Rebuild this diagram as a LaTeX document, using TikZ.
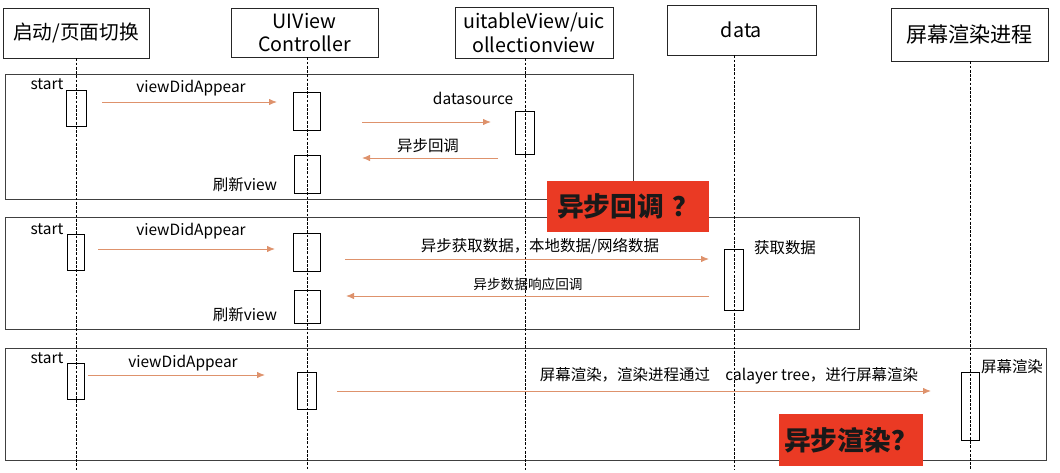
\documentclass[tikz,border=0pt]{standalone}
\usepackage{fontspec}
\setmainfont{Noto Sans CJK SC}
\usetikzlibrary{arrows.meta,calc,positioning}
\definecolor{msgOrange}{RGB}{222,146,108}
\definecolor{alertRed}{RGB}{234,58,36}
\newcommand{\myHeadFont}{\fontsize{14}{17}\selectfont}
\newcommand{\myLblFont}{\fontsize{11}{13}\selectfont}
\newcommand{\mySmallFont}{\fontsize{9.7}{12}\selectfont}
\newcommand{\myAlertFont}{\fontsize{19}{22}\selectfont\bfseries}
\tikzset{
myHead/.style={
	rectangle,draw=black!85,line width=0.6pt,
	inner sep=0pt,font=\myHeadFont,align=center
}
, myAct/.style={
	rectangle,draw=black,line width=0.6pt,
	inner sep=0pt
}
, myAlert/.style={
	rectangle,fill=alertRed,inner sep=0pt,
	font=\myAlertFont,text=black!90
}
, myLbl/.style={inner sep=0pt,font=\myLblFont}
% lines
, myLife/.style={black,line width=0.5pt,dash pattern=on 2pt off 1pt}
, myFrame/.style={draw=black!75,line width=0.7pt}
, myMsg/.style={-{Latex[length=2mm,width=1.6mm]},color=msgOrange,line width=0.6pt}
}

\begin{document}
\begin{tikzpicture}[x=0.025cm,y=-0.025cm]
	\useasboundingbox (0,0) rectangle (1060,473);
	% frames
	\draw[myFrame] (5,74) rectangle (633,199);
	\draw[myFrame] (5,217) rectangle (859,329);
	\draw[myFrame] (5,348) rectangle (1046,460);
	% heads
	\node[myHead,minimum width=3.65cm,minimum height=1.25cm] (Start) at (76,33) {启动/页面切换};
	\node[myHead,minimum width=3.675cm,minimum height=1.225cm] (VC) at (304.5,32.5) {UIView\\Controller};
	\node[myHead,minimum width=3.95cm,minimum height=1.275cm] (Table) at (534,32.5) {uitableView/uic\\ollectionview};
	\node[myHead,minimum width=3.725cm,minimum height=1.25cm] (Data) at (741.5,30) {data};
	\node[myHead,minimum width=3.925cm,minimum height=1.325cm,font=\fontsize{15}{18}\selectfont] (Render) at (969.5,34.5) {屏幕渲染进程};
	\coordinate (Bottom) at (0,470);
	% activations, frame 1
	\node[myAct,minimum width=0.5cm,minimum height=0.9cm] (S1) at (76,108) {};
	\node[myAct,minimum width=0.675cm,minimum height=0.95cm] (V1) at (307,111) {};
	\node[myAct,minimum width=0.65cm,minimum height=0.95cm] (V1b) at (307,174) {};
	\node[myAct,minimum width=0.475cm,minimum height=1.075cm] (T1) at (525,132.5) {};
	% activations, frame 2
	\node[myAct,minimum width=0.425cm,minimum height=0.9cm] (S2) at (76,252) {};
	\node[myAct,minimum width=0.675cm,minimum height=0.95cm] (V2) at (307,252) {};
	\node[myAct,minimum width=0.65cm,minimum height=0.825cm] (V2b) at (307,306.5) {};
	\node[myAct,minimum width=0.475cm,minimum height=1.525cm] (D2) at (734,279.5) {};
	% activations, frame 3
	\node[myAct,minimum width=0.425cm,minimum height=0.9cm] (S3) at (76,381) {};
	\node[myAct,minimum width=0.475cm,minimum height=0.925cm] (V3) at (307,390.5) {};
	\node[myAct,minimum width=0.45cm,minimum height=1.7cm] (R3) at (970,406) {};
	% lifelines
	\draw[myLife] (Start.south -| S1) -- (S1 |- Bottom);
	\draw[myLife] (VC.south -| V1) -- (V1 |- Bottom);
	\draw[myLife] (Table.south -| T1) -- (T1 |- Bottom);
	\draw[myLife] (Data.south -| D2) -- (D2 |- Bottom);
	\draw[myLife] (Render.south -| R3) -- (R3 |- Bottom);
	% message ends
	\coordinate (m1a) at (102,102); \coordinate (m1b) at (277,102);
	\coordinate (m2a) at (362,122); \coordinate (m2b) at (491,122);
	\coordinate (m3a) at (498,158); \coordinate (m3b) at (362,158);
	\coordinate (m4a) at (98,249);  \coordinate (m4b) at (275,249);
	\coordinate (m5a) at (345,259); \coordinate (m5b) at (709,259);
	\coordinate (m6a) at (709,296); \coordinate (m6b) at (346,296);
	\coordinate (m7a) at (88,375);  \coordinate (m7b) at (265,375);
	\coordinate (m8a) at (337,391); \coordinate (m8b) at (931,391);
	% links
	\draw[myMsg] (m1a) -- (m1b);
	\draw[myMsg] (m2a) -- (m2b);
	\draw[myMsg] (m3a) -- (m3b);
	\draw[myMsg] (m4a) -- (m4b);
	\draw[myMsg] (m5a) -- (m5b);
	\draw[myMsg] (m6a) -- (m6b);
	\draw[myMsg] (m7a) -- (m7b);
	\draw[myMsg] (m8a) -- (m8b);
	% labels
	\node[myLbl] (start1) at (47,84) {start};
	\node[myLbl] (vda1) at (191,88) {viewDidAppear};
	\node[myLbl] (ds1) at (473,98) {datasource};
	\node[myLbl] (cb1) at (428,146) {异步回调};
	\node[myLbl] (ref1) at (245,185) {刷新view};
	\node[myLbl] (start2) at (47,229) {start};
	\node[myLbl] (vda2) at (191,231) {viewDidAppear};
	\node[myLbl] (fetch2) at (540,246) {异步获取数据，本地数据/网络数据};
	\node[myLbl,font=\mySmallFont] (resp2) at (528,284) {异步数据响应回调};
	\node[myLbl] (get2) at (785,248) {获取数据};
	\node[myLbl] (ref2) at (245,315) {刷新view};
	\node[myLbl] (start3) at (47,358) {start};
	\node[myLbl] (vda3) at (183,363) {viewDidAppear};
	\node[myLbl] (draw3) at (729,376) {屏幕渲染，渲染进程通过\quad calayer tree，进行屏幕渲染};
	\node[myLbl] (scr3) at (1012,367) {屏幕渲染};
	% alerts
	\node[myAlert,minimum width=4.05cm,minimum height=1.275cm] (AlertCb) at (628,206.5) {异步回调\hspace{0.3em}？};
	\node[myAlert,minimum width=3.6cm,minimum height=1.3cm] (AlertRd) at (851,440) {异步渲染？};
\end{tikzpicture}
\end{document}
